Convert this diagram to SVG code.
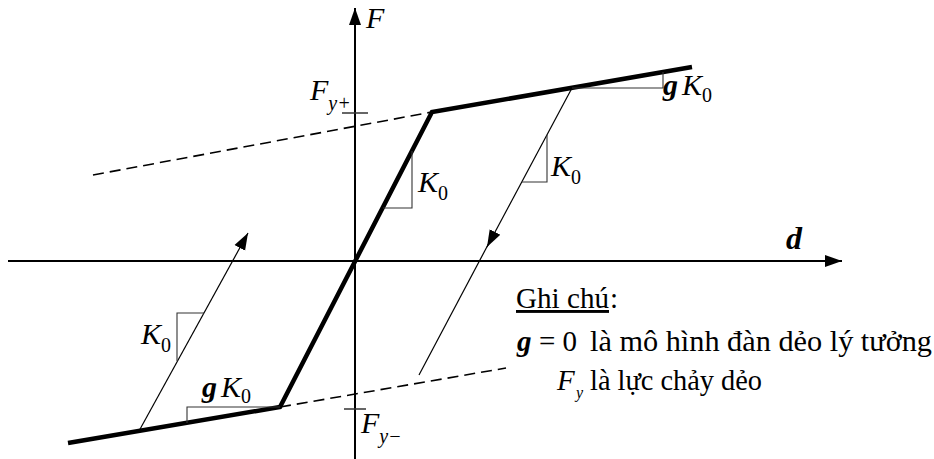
<svg xmlns="http://www.w3.org/2000/svg" width="934" height="459" viewBox="0 0 934 459" font-family="'Liberation Serif','DejaVu Serif',serif">
<style>
text{font-family:"Liberation Serif","DejaVu Serif",serif;fill:#000}
.it{font-style:italic}
.bi{font-style:italic;font-weight:bold}
.big{font-size:30px}
.sub{font-size:20px;font-style:normal}
.subi{font-size:20px;font-style:italic}
.leg{font-size:29px}
.axis{stroke:#000;stroke-width:2;fill:none}
.curve{stroke:#000;stroke-width:4.5;fill:none;stroke-linejoin:miter}
.dash{stroke:#000;stroke-width:1.6;fill:none;stroke-dasharray:11 6}
.thin{stroke:#000;stroke-width:1.2;fill:none}
.tri{stroke:#333;stroke-width:1.1;fill:none}
.tick{stroke:#333;stroke-width:1.5;fill:none}
</style>
<defs>
<marker id="ah" markerWidth="18" markerHeight="14" refX="17" refY="7" orient="auto" markerUnits="userSpaceOnUse">
<path d="M0,1 L17,7 L0,13 Z" fill="#000"/>
</marker>
<marker id="axh" markerWidth="18" markerHeight="14" refX="17" refY="7" orient="auto" markerUnits="userSpaceOnUse">
<path d="M0,1 L17,7 L0,13 Z" fill="#000"/>
</marker>
</defs>
<g id="axes">
<line class="axis" x1="8" y1="261" x2="842" y2="261" marker-end="url(#axh)"/>
<line class="axis" x1="355" y1="459" x2="355" y2="8" marker-end="url(#axh)"/>
<text class="bi" font-size="32" x="786" y="249">d</text>
<text class="it big" x="366" y="28">F</text>
</g>
<g id="ticks">
<line class="tick" x1="342" y1="113" x2="368" y2="113"/>
<text class="it big" x="310" y="100">F<tspan class="subi" dy="10">y+</tspan></text>
<line class="tick" x1="344" y1="409" x2="366" y2="409"/>
<text class="it big" x="361" y="433">F<tspan class="subi" dy="10">y−</tspan></text>
</g>
<g id="curve">
<polyline class="curve" points="68,443 280,407 432,112 692,67"/>
</g>
<g id="dashed">
<line class="dash" x1="93" y1="175" x2="432" y2="112"/>
<line class="dash" x1="280" y1="407" x2="506" y2="368"/>
</g>
<g id="connectors">
<line class="thin" x1="139" y1="431" x2="248" y2="233" marker-end="url(#ah)"/>
<line class="thin" x1="572" y1="88" x2="487" y2="247" marker-end="url(#ah)"/>
<line class="thin" x1="490" y1="241" x2="419" y2="375"/>
</g>
<g id="slope-mid">
<polyline class="tri" points="412,151 412,208 383,208"/>
<text class="it big" x="418" y="192">K<tspan class="sub" dy="8">0</tspan></text>
</g>
<g id="slope-right">
<polyline class="tri" points="547,135 547,182 522,182"/>
<text class="it big" x="551" y="176">K<tspan class="sub" dy="8">0</tspan></text>
</g>
<g id="slope-upper">
<polyline class="tri" points="572,88 663,88 663,72"/>
<text class="big" x="663" y="95"><tspan class="bi">g</tspan><tspan class="it" dx="4">K</tspan><tspan class="sub" dy="7">0</tspan></text>
</g>
<g id="slope-left">
<polyline class="tri" points="177,361 177,313 204,313"/>
<text class="it big" x="141" y="344">K<tspan class="sub" dy="8">0</tspan></text>
</g>
<g id="slope-lower">
<polyline class="tri" points="280,407 187,407 187,423"/>
<text class="big" x="202" y="397"><tspan class="bi">g</tspan><tspan class="it" dx="4">K</tspan><tspan class="sub" dy="6">0</tspan></text>
</g>
<g id="legend">
<text class="leg" x="516" y="308" textLength="93" lengthAdjust="spacingAndGlyphs" text-decoration="underline">Ghi chú</text>
<text class="leg" x="610" y="308">:</text>
<text class="leg bi" x="517" y="351">g</text>
<text class="leg" x="539" y="351">= 0</text>
<text class="leg" x="590" y="351" textLength="342" lengthAdjust="spacingAndGlyphs">là mô hình đàn dẻo lý tưởng</text>
<text class="leg it" x="557" y="390">F</text>
<text class="it" font-size="16" x="576" y="398">y</text>
<text class="leg" x="590" y="390" textLength="172" lengthAdjust="spacingAndGlyphs">là lực chảy dẻo</text>
</g>
</svg>
